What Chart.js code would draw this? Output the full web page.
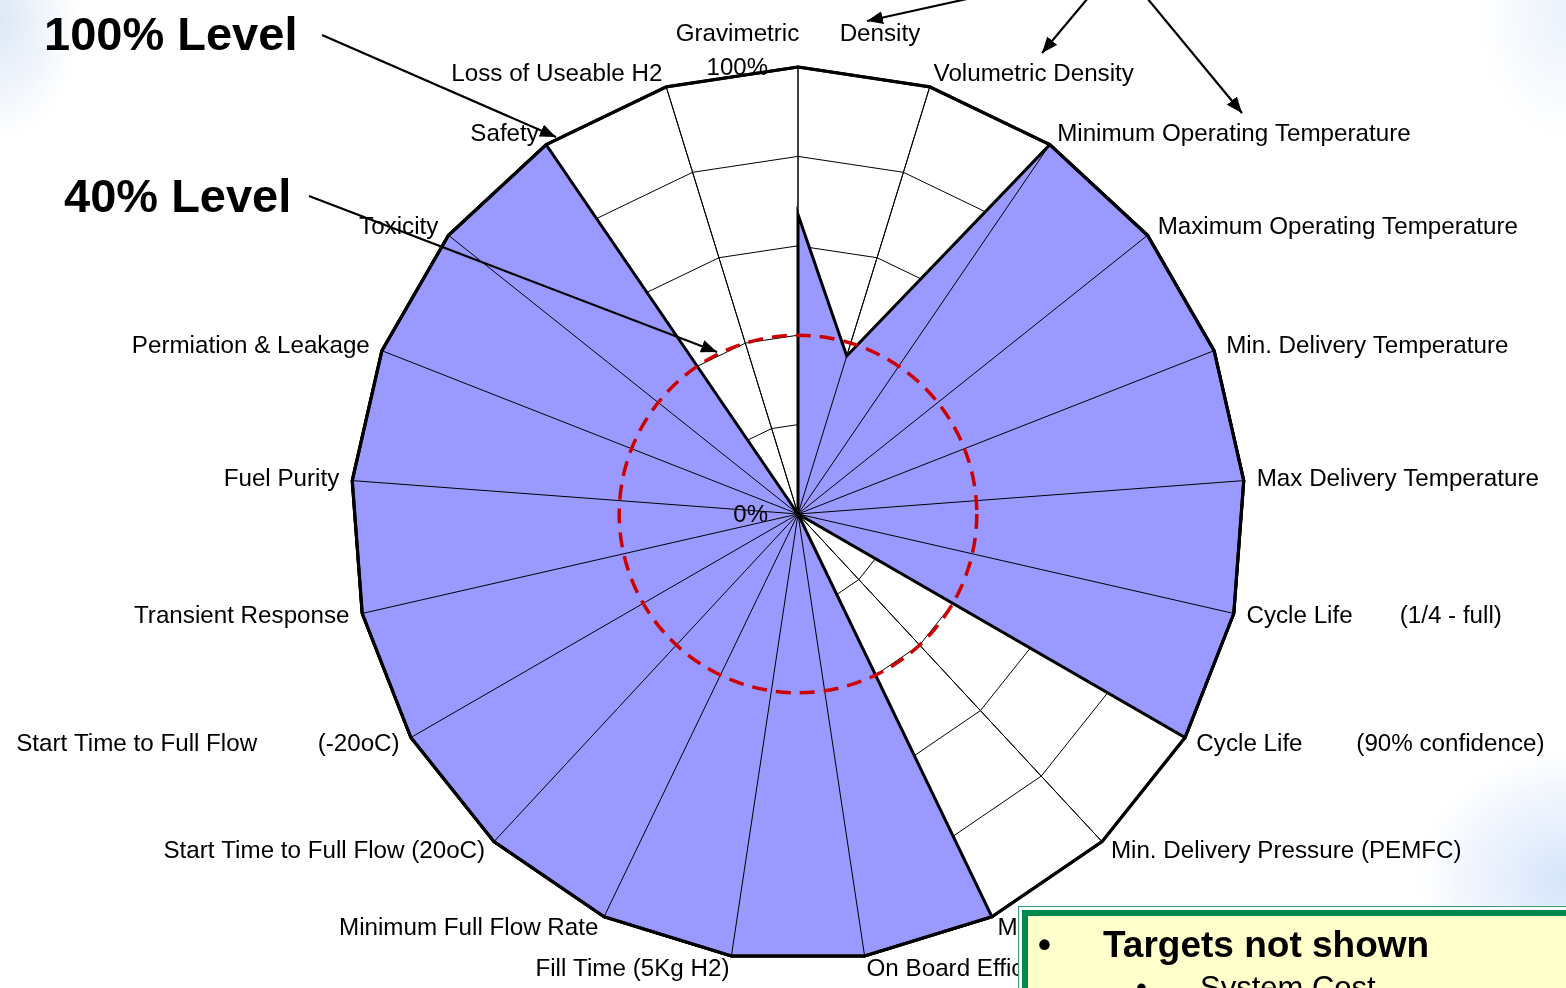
<!DOCTYPE html>
<html>
<head>
<meta charset="utf-8">
<title>Hydrogen storage targets</title>
<script src="https://cdn.jsdelivr.net/npm/chart.js@4.4.1/dist/chart.umd.min.js"></script>
<style>
  html, body {
    margin: 0;
    padding: 0;
    width: 1566px;
    height: 988px;
    overflow: hidden;
  }
  body {
    position: relative;
    font-family: "Liberation Sans", Arial, sans-serif;
    background:
      radial-gradient(ellipse 80px 120px at 0px 20px, rgba(214, 228, 246, 0.85), rgba(255, 255, 255, 0) 100%),
      radial-gradient(ellipse 90px 130px at 1566px 10px, rgba(220, 234, 250, 0.6), rgba(255, 255, 255, 0) 100%),
      radial-gradient(ellipse 150px 130px at 1566px 880px, rgba(206, 224, 250, 0.85), rgba(255, 255, 255, 0) 100%),
      #ffffff;
  }
  /* the canvas is wider than the page so the radar keeps its full radius */
  #radar {
    position: absolute;
    left: -202px;
    top: 21px;
  }
  #notes {
    position: absolute;
    left: 0;
    top: 0;
  }
  #notes text.big {
    font-family: "Liberation Sans", Arial, sans-serif;
    font-weight: bold;
    font-size: 47px;
    fill: #000;
  }
  #notes line {
    stroke: #000;
    stroke-width: 2.2;
  }
  #box {
    position: absolute;
    left: 1018px;
    top: 906px;
    width: 600px;
    height: 120px;
    border: 1px solid #3d9e72;
    padding: 3px;
    background: #ffffff;
  }
  #box .inner {
    position: relative;
    height: 100%;
    border: 6px solid #00884e;
    background: #ffffcc;
  }
  #box .row {
    position: absolute;
    white-space: nowrap;
    color: #000;
  }
  #box .row1 { top: 10px; font-size: 37px; line-height: 37px; font-weight: bold; }
  #box .row2 { top: 56px; font-size: 31px; line-height: 31px; }
  #box .dot { position: absolute; }
  #box .row1 .dot { left: 10px; }
  #box .row1 .txt { position: absolute; left: 75px; }
  #box .row2 .dot { left: 108px; }
  #box .row2 .txt { position: absolute; left: 172px; }
</style>
</head>
<body>
<canvas id="radar" width="2000" height="961"></canvas>

<svg id="notes" width="1566" height="988">
  <defs>
    <marker id="head" markerUnits="userSpaceOnUse" markerWidth="18" markerHeight="14"
            refX="16" refY="6.5" orient="auto">
      <path d="M0,0 L16,6.5 L0,13 z" fill="#000"></path>
    </marker>
  </defs>
  <text class="big" x="44" y="50">100% Level</text>
  <text class="big" x="64" y="212">40% Level</text>
  <line x1="322" y1="35" x2="556" y2="137" marker-end="url(#head)"></line>
  <line x1="309" y1="196" x2="717" y2="352" marker-end="url(#head)"></line>
  <line x1="967" y1="-1" x2="867" y2="21" marker-end="url(#head)"></line>
  <line x1="1088" y1="-2" x2="1042" y2="53" marker-end="url(#head)"></line>
  <line x1="1147" y1="-2" x2="1242" y2="113" marker-end="url(#head)"></line>
</svg>

<div id="box">
  <div class="inner">
    <div class="row row1"><span class="dot">•</span><span class="txt">Targets not shown</span></div>
    <div class="row row2"><span class="dot">•</span><span class="txt">System Cost</span></div>
  </div>
</div>

<script>
// storage targets, clockwise from the top
const targets = [
  "Gravimetric      Density",
  "Volumetric Density",
  "Minimum Operating Temperature",
  "Maximum Operating Temperature",
  "Min. Delivery Temperature",
  "Max Delivery Temperature",
  "Cycle Life       (1/4 - full)",
  "Cycle Life        (90% confidence)",
  "Min. Delivery Pressure (PEMFC)",
  "Max. Delivery Pressure",
  "On Board Efficiency",
  "Fill Time (5Kg H2)",
  "Minimum Full Flow Rate",
  "Start Time to Full Flow (20oC)",
  "Start Time to Full Flow         (-20oC)",
  "Transient Response",
  "Fuel Purity",
  "Permiation & Leakage",
  "Toxicity",
  "Safety",
  "Loss of Useable H2"
];
// percent of each target reached
const achieved = [67, 37, 100, 100, 100, 100, 100, 100, 0, 100, 100, 100, 100, 100, 100, 100, 100, 100, 100, 100, 0];
// dashed reference level, percent
const levelMark = 40;
// value labels written on the top spoke
const valueTicks = [0, 100];

const labelFont = '"Liberation Sans", Arial, sans-serif';

// spokes, outer ring, level circle and value labels drawn above the fill
const overlay = {
  id: "overlay",
  afterDatasetsDraw(chart) {
    const r = chart.scales.r;
    const ctx = chart.ctx;
    const n = targets.length;
    ctx.save();

    ctx.strokeStyle = "#000";
    ctx.lineWidth = 1;
    ctx.beginPath();
    for (let i = 0; i < n; i++) {
      const p = r.getPointPositionForValue(i, 100);
      ctx.moveTo(r.xCenter, r.yCenter);
      ctx.lineTo(p.x, p.y);
    }
    ctx.stroke();

    ctx.lineWidth = 3.2;
    ctx.lineJoin = "miter";
    ctx.beginPath();
    for (let i = 0; i < n; i++) {
      const p = r.getPointPositionForValue(i, 100);
      if (i === 0) ctx.moveTo(p.x, p.y);
      else ctx.lineTo(p.x, p.y);
    }
    ctx.closePath();
    ctx.stroke();

    ctx.strokeStyle = "#cc0000";
    ctx.lineWidth = 3.5;
    ctx.setLineDash([15, 9]);
    ctx.beginPath();
    ctx.arc(r.xCenter, r.yCenter, r.getDistanceFromCenterForValue(levelMark), 0, Math.PI * 2);
    ctx.stroke();
    ctx.setLineDash([]);

    ctx.fillStyle = "#000";
    ctx.font = "24px " + labelFont;
    ctx.textAlign = "right";
    ctx.textBaseline = "middle";
    valueTicks.forEach(function(v) {
      ctx.fillText(v + "%", r.xCenter - 30, r.yCenter - r.getDistanceFromCenterForValue(v) + 1);
    });
    ctx.restore();
  }
};

const chart = new Chart(document.getElementById("radar").getContext("2d"), {
  type: "radar",
  data: {
    labels: targets,
    datasets: [{
      data: achieved,
      backgroundColor: "#9999ff",
      borderColor: "#000",
      borderWidth: 3,
      borderJoinStyle: "miter",
      pointRadius: 0,
      pointHoverRadius: 0,
      fill: true,
      tension: 0
    }]
  },
  options: {
    responsive: false,
    animation: false,
    devicePixelRatio: 1,
    events: [],
    plugins: {
      legend: { display: false },
      tooltip: { enabled: false }
    },
    scales: {
      r: {
        min: 0,
        max: 100,
        ticks: { display: false, stepSize: 20 },
        grid: {
          color: "#000",
          lineWidth: function(c) { return c.tick && c.tick.value === 100 ? 3 : 1; }
        },
        angleLines: { color: "#000", lineWidth: 1 },
        pointLabels: {
          color: "#000",
          font: { family: labelFont, size: 24.2, lineHeight: 0 },
          padding: function(c) { return c.index === 0 ? 33 : 13; }
        }
      }
    }
  },
  plugins: [overlay]
});
</script>
</body>
</html>
